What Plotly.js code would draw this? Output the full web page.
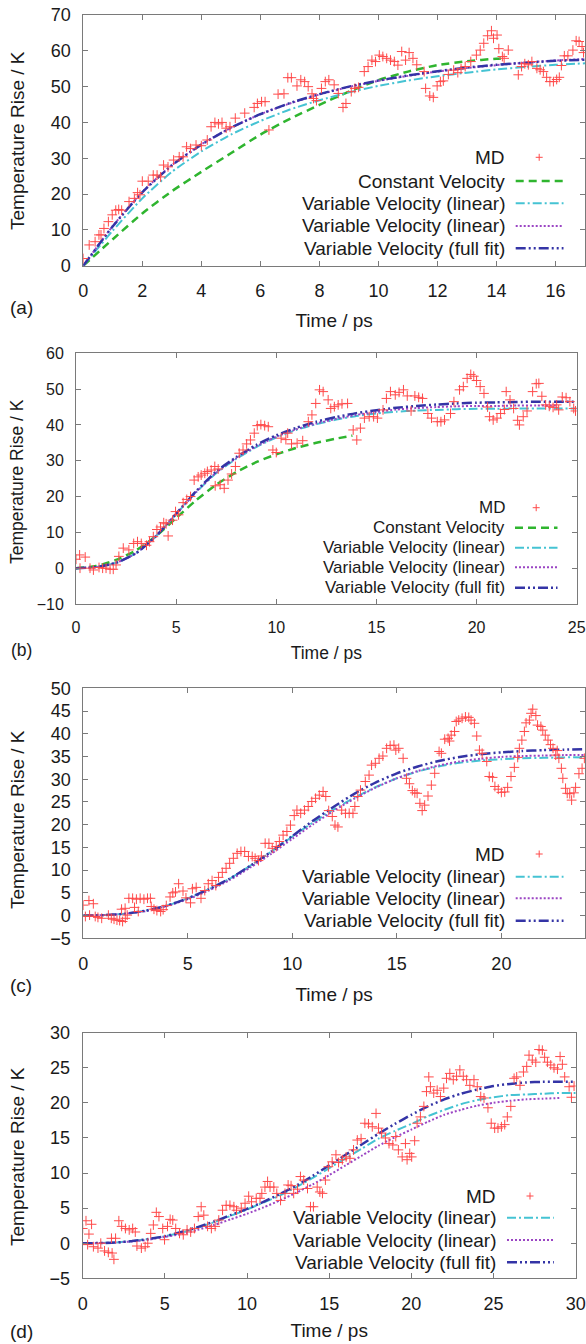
<!DOCTYPE html>
<html>
<head>
<meta charset="utf-8">
<script src="https://cdn.plot.ly/plotly-3.0.1.min.js"></script>
<style>html,body{margin:0;padding:0;background:#fff;}#chart{width:586px;height:1344px;}</style>
</head>
<body>
<div id="chart"></div>
<script>
// ---------------- DATA ----------------
const legendA = ["MD", "Constant Velocity", "Variable Velocity (linear)", "Variable Velocity (linear)", "Variable Velocity (full fit)"];
const legendB = ["MD", "Constant Velocity", "Variable Velocity (linear)", "Variable Velocity (linear)", "Variable Velocity (full fit)"];
const legendC = ["MD", "Variable Velocity (linear)", "Variable Velocity (linear)", "Variable Velocity (full fit)"];
const legendD = ["MD", "Variable Velocity (linear)", "Variable Velocity (linear)", "Variable Velocity (full fit)"];
const panelLabels = ["(a)", "(b)", "(c)", "(d)"];
const xTitle = "Time / ps";
const yTitle = "Temperature Rise / K";

// Panel (a)
const mdA_t = [0,0.2,0.4,0.53,0.6,0.7,0.85,0.98,1.1,1.2,1.3,1.55,1.73,1.84,1.92,2.0,2.2,2.37,2.5,2.62,2.72,2.87,3.06,3.25,3.38,3.5,3.63,3.82,4.0,4.2,4.33,4.46,4.58,4.7,4.84,4.97,5.15,5.47,5.79,5.9,6.04,6.16,6.29,6.6,6.8,6.93,7.05,7.24,7.37,7.5,7.62,7.75,7.8,7.9,8.07,8.2,8.32,8.5,8.64,8.8,8.9,9.08,9.2,9.33,9.52,9.65,9.78,9.9,10.03,10.15,10.28,10.41,10.54,10.66,10.79,10.92,11.04,11.17,11.3,11.55,11.6,11.74,11.86,11.99,12.1,12.2,12.37,12.55,12.69,12.8,12.94,13.13,13.32,13.45,13.57,13.7,13.83,13.9,14.02,14.08,14.2,14.26,14.4,14.74,14.85,14.96,15.08,15.2,15.37,15.48,15.59,15.7,15.81,15.93,16.04,16.13,16.2,16.3,16.42,16.59,16.7,16.8,16.9,16.95];
const mdA_T = [2.0,5.8,6.7,8.6,8.6,10.4,12.3,14.2,15.5,15.7,15.5,17.9,18.8,20.4,19.8,23.6,23.6,25.3,25.3,24.8,28.1,27.6,29.5,30.4,30.4,33.2,32.7,33.7,33.5,35.1,38.8,40.0,39.6,40.0,38.4,38.8,41.2,42.6,44.2,45.3,45.8,45.8,37.9,47.9,48.0,52.5,52.5,50.2,51.9,51.4,50.0,48.0,46.7,46.1,49.5,51.4,51.9,50.5,48.1,44.2,45.3,48.6,49.5,49.8,54.2,55.6,57.4,57.0,58.8,58.4,57.9,57.4,57.0,56.0,59.8,57.4,59.5,57.9,56.1,54.2,49.5,47.4,47.0,50.2,51.4,51.6,53.4,54.6,53.9,55.0,55.6,57.0,58.8,60.2,62.1,64.2,65.6,63.5,64.4,60.6,58.4,57.9,60.2,53.3,55.6,56.4,56.1,57.0,55.1,54.7,54.2,52.6,51.4,51.4,52.0,52.6,55.9,58.6,58.6,60.2,62.8,62.6,61.2,59.5];
const curveA_t = [0,1,2,3,4,5,6,7,8,9,10,11,12,13,14,15,16,17];
const fullFitA = [0,11.0,20.5,28.0,33.8,38.5,42.3,45.4,47.9,50.0,51.7,53.1,54.3,55.3,56.1,56.7,57.2,57.5];
const linear2A = [0,11.1,20.6,28.1,33.9,38.5,42.3,45.3,47.8,49.9,51.6,53.0,54.2,55.2,56.0,56.7,57.3,57.7];
const linear1A = [0,9.8,18.8,26.2,31.9,36.6,40.4,43.6,46.2,48.4,50.2,51.7,52.9,53.9,54.8,55.5,56.1,56.5];
const constA_t = [0,1,2,3,4,5,6,7,8,9,10,11,12,13,14,14.2];
const constA = [0,7.4,14.6,20.8,26.2,31.4,36.6,41.0,44.9,48.6,51.8,54.2,56.0,57.1,57.8,57.9];

// Panel (b)
const mdB_t = [0,0.18,0.2,0.46,0.7,0.87,1.15,1.33,1.5,1.7,1.86,2.0,2.14,2.36,2.64,2.88,3.07,3.26,3.52,3.67,3.86,4.04,4.22,4.38,4.5,4.6,4.82,4.97,5.12,5.35,5.53,5.72,5.9,6.1,6.25,6.43,6.56,6.75,6.93,7.1,6.95,7.2,7.4,7.59,7.77,7.96,8.15,8.34,8.52,8.71,8.9,9.05,9.23,9.42,9.6,9.83,10.0,10.24,10.48,10.57,10.76,11.04,11.32,11.6,11.78,11.97,12.16,12.34,12.59,12.72,12.9,13.09,13.28,13.56,13.84,14.02,14.2,14.4,14.64,14.86,15.05,15.33,15.5,15.7,15.94,16.13,16.35,16.54,16.73,16.92,17.11,17.3,17.57,17.75,18.04,18.22,18.4,18.7,18.87,19.15,19.34,19.53,19.71,19.86,20.0,20.18,20.37,20.55,20.65,20.83,21.02,21.2,21.39,21.48,21.67,21.85,22.05,22.14,22.33,22.52,22.8,22.98,23.11,23.26,23.45,23.63,23.82,24.0,24.1,24.28,24.47,24.66,24.85,24.94];
const mdB_T = [2.5,3.7,0,3.1,0,-0.5,0.2,0,0,-0.3,-0.3,0.9,3.3,5.6,5.1,6.9,7.4,6.9,6.4,7.4,8.8,10.8,11.5,12.7,12.4,9.0,13.4,15.8,14.9,18.3,19.2,20.0,24.6,25.5,26.0,26.5,27.0,27.4,28.4,27.7,23.0,23.3,22.3,24.6,26.3,28.4,32.1,33.0,34.7,35.8,37.7,39.8,40.1,39.8,39.5,33.0,32.3,36.3,35.9,37.7,34.7,34.9,35.6,40.9,42.8,46.0,49.8,49.3,47.0,44.6,45.1,45.6,45.9,46.0,38.6,35.8,39.1,41.9,42.3,42.3,41.9,44.2,47.4,49.3,48.4,49.1,49.8,48.1,43.9,48.1,47.7,47.4,43.2,41.9,40.9,40.9,41.4,43.2,46.5,49.8,50.7,53.0,54.1,53.6,52.4,50.7,48.8,45.0,42.3,41.4,41.9,43.2,44.3,49.3,47.0,44.6,41.3,40.0,42.3,43.9,49.3,51.5,51.6,48.0,45.6,45.2,44.9,45.6,44.2,47.8,47.6,46.5,44.6,43.9];
const curveB_t = [0,1,2,3,4,5,6,7,8,9,10,11,12,13,14,15,16,17,18,19,20,21,22,23,24,25];
const fullFitB = [0,0.3,1.5,4.2,9.0,15.2,21.5,27.0,31.0,34.4,37.1,39.2,40.9,42.2,43.3,44.1,44.8,45.3,45.7,46.0,46.2,46.3,46.4,46.5,46.5,46.5];
const linear1B = [0,0.3,1.5,4.2,9.0,15.1,21.2,26.5,30.5,33.8,36.5,38.6,40.2,41.5,42.5,43.2,43.7,44.0,44.2,44.4,44.5,44.5,44.6,44.6,44.6,44.6];
const linear2B_t = [0,1,2,3,4,5,6,7,8,9,10,11,12,13,14,15,16,17,18,19,20,21,22,23,24];
const linear2B = [0,0.3,1.5,4.2,9.0,15.1,21.3,26.7,30.7,34.0,36.7,38.8,40.4,41.7,42.8,43.6,44.3,44.7,45.0,45.2,45.3,45.3,45.4,45.4,45.4];
const constB_t = [0,1,2,3,4,5,6,7,8,9,10,11,12,13,13.8];
const constB = [0,0.6,2.3,5.0,9.0,14.0,19.0,23.3,26.8,29.6,31.8,33.6,35.0,36.2,37.0];

// Panel (c)
const mdC_t = [0,0.1,0.27,0.3,0.48,0.57,0.7,0.88,1.2,1.34,1.47,1.61,1.74,1.88,1.83,2.0,2.01,2.1,2.18,2.36,2.45,2.54,2.63,2.72,2.9,3.07,3.21,3.25,3.38,3.52,3.7,3.82,3.97,4.15,4.28,4.41,4.56,4.77,4.91,5.13,5.22,5.4,5.63,5.81,5.98,6.16,6.34,6.47,6.65,6.83,7.0,7.18,7.36,7.54,7.72,7.9,8.08,8.22,8.38,8.52,8.7,8.88,9.04,9.23,9.38,9.56,9.74,9.91,10.09,10.22,10.4,10.58,10.76,10.93,11.11,11.29,11.47,11.6,11.74,11.91,12.04,12.18,12.36,12.54,12.72,12.9,12.99,13.13,13.26,13.49,13.67,13.79,13.97,14.15,14.33,14.51,14.68,14.86,14.95,15.09,15.3,15.46,15.6,15.74,15.86,15.97,16.1,16.21,16.33,16.49,16.65,16.81,17.02,17.13,17.29,17.45,17.52,17.6,17.76,17.84,17.96,18.12,18.28,18.44,18.55,18.71,18.82,18.95,19.08,19.3,19.42,19.58,19.69,19.85,20.0,20.16,20.3,20.46,20.62,20.78,20.86,20.98,21.1,21.18,21.34,21.42,21.5,21.65,21.73,21.89,21.98,22.1,22.23,22.35,22.47,22.6,22.67,22.75,22.87,22.94,23.07,23.15,23.27,23.36,23.47,23.55,23.71,23.86,23.97];
const mdC_T = [2.3,-0.2,3.3,0.1,2.6,-0.2,-0.4,-0.6,0.1,-0.6,-0.8,-1.0,-1.1,-1.3,1.4,1.6,-0.6,0.1,3.8,3.8,1.8,3.6,0.9,3.8,3.6,3.8,3.8,2.0,1.4,1.1,0.9,1.3,2.2,4.1,5.0,5.2,7.0,5.4,3.9,2.8,5.9,6.2,3.8,5.5,7.0,7.7,6.6,8.4,9.5,10.4,11.5,12.6,13.7,14.1,14.1,13.0,13.0,12.6,12.1,13.1,15.9,15.9,14.8,15.2,16.3,17.7,18.5,19.9,22.0,23.2,22.5,23.2,24.0,25.1,25.8,26.5,27.3,26.2,23.1,21.8,19.9,19.5,23.2,22.5,22.5,22.5,24.0,26.2,27.6,29.5,30.9,33.1,33.5,34.6,35.1,36.8,37.4,37.5,36.4,36.8,34.6,30.2,29.0,27.5,27.0,26.9,24.7,23.1,24.3,26.3,28.7,31.3,36.1,35.7,38.8,39.0,38.4,39.7,40.5,42.7,43.0,43.4,43.7,43.6,43.0,42.3,39.5,36.4,35.7,33.9,30.6,30.4,28.4,27.8,27.1,27.2,28.2,30.6,32.6,34.8,36.8,38.6,40.5,42.4,43.0,44.5,45.4,44.0,41.9,41.6,40.8,39.7,38.6,37.6,36.8,35.3,36.3,34.6,32.4,30.2,28.0,26.9,26.8,25.4,27.0,28.2,31.2,32.4,34.6];
const curveC_t = [0,1,2,3,4,5,6,7,8,9,10,11,12,13,14,15,16,17,18,19,20,21,22,23,24];
const fullFitC = [0,0.1,0.4,1.1,2.2,3.8,5.8,8.1,11.0,14.1,17.5,20.9,24.0,26.9,29.3,31.3,32.8,34.0,34.9,35.5,35.9,36.2,36.4,36.5,36.6];
const linear1C = [0,0.1,0.4,1.1,2.2,3.8,5.8,8.1,11.0,14.1,17.4,20.5,23.4,26.0,28.3,30.2,31.7,32.8,33.6,34.1,34.4,34.6,34.7,34.8,34.8];
const linear2C = [0,0.1,0.4,1.0,2.1,3.6,5.5,7.8,10.6,13.6,16.9,20.1,23.1,25.8,28.2,30.2,31.8,33.0,33.9,34.5,34.9,35.1,35.2,35.3,35.3];

// Panel (d)
const mdD_t = [0,0.2,0.3,0.38,0.54,0.65,0.93,1.1,1.33,1.56,1.75,1.79,1.9,2.0,2.2,2.37,2.6,2.83,3.04,3.2,3.3,3.57,3.8,3.96,4.14,4.3,4.48,4.64,4.87,4.98,5.16,5.32,5.48,5.66,5.89,6.12,6.35,6.57,6.8,7.03,7.21,7.37,7.6,7.83,8.06,8.28,8.51,8.73,8.96,9.2,9.36,9.65,9.88,10.1,10.27,10.56,10.79,10.9,11.09,11.25,11.4,11.63,11.81,12.04,12.31,12.5,12.68,12.84,13.07,13.25,13.45,13.68,13.86,14.04,14.27,14.43,14.59,14.77,14.95,15.18,15.41,15.57,15.8,16.03,16.26,16.48,16.71,16.94,17.17,17.39,17.62,17.85,18.0,18.19,18.42,18.64,18.87,19.05,19.21,19.44,19.64,19.74,19.9,20.02,20.2,20.35,20.55,20.76,20.92,21.06,21.16,21.36,21.57,21.77,21.97,22.14,22.34,22.55,22.75,22.95,23.16,23.36,23.56,23.81,24.01,24.22,24.42,24.66,24.86,25.07,25.27,25.48,25.68,25.84,26.05,26.25,26.41,26.61,26.82,27.02,27.16,27.36,27.57,27.77,27.97,28.11,28.28,28.48,28.68,28.89,29.05,29.19,29.33,29.6,29.74,29.9];
const mdD_T = [2.1,3.2,-0.2,1.3,2.7,-0.5,-0.7,0,-1.1,-1.3,0.7,-1.4,-2.3,0.7,3.2,2.4,2.1,1.9,2.1,1.6,-0.4,-0.7,-0.5,0,1.4,2.6,4.4,3.8,2.1,0.5,2.4,3.4,3.3,2.1,1.4,1.2,1.9,1.6,2.1,3.8,5.2,4.0,2.4,2.1,2.4,3.3,4.7,5.4,5.4,5.2,4.7,5.0,5.7,6.7,5.9,6.4,6.4,7.1,8.0,8.8,8.0,8.0,7.1,6.1,7.1,8.3,8.2,7.1,7.7,9.5,9.0,7.8,5.2,5.2,8.0,7.3,7.1,9.0,10.9,11.6,12.6,11.5,11.9,12.3,12.1,13.3,14.7,14.9,17.1,17.0,16.6,18.5,16.4,15.7,15.0,14.2,14.0,15.2,13.3,12.3,14.2,11.9,12.8,12.3,14.6,17.1,18.0,19.5,21.6,23.7,22.3,21.4,21.8,20.9,22.1,23.5,24.2,23.3,23.8,24.7,23.8,23.3,22.5,23.3,22.3,20.9,20.7,19.3,17.1,16.4,16.4,16.6,16.9,18.0,19.5,23.5,23.7,22.5,24.4,25.2,26.8,26.1,25.8,27.6,27.5,26.5,25.8,25.4,25.0,24.8,26.6,25.5,23.7,22.3,20.8,22.4];
const curveD_t = [0,1,2,3,4,5,6,7,8,9,10,11,12,13,14,15,16,17,18,19,20,21,22,23,24,25,26,27,28,29,30];
const fullFitD = [0,0.02,0.1,0.3,0.6,1.0,1.6,2.3,3.1,4.0,4.9,5.9,7.0,8.2,9.6,11.1,12.6,14.1,15.6,17.0,18.3,19.5,20.5,21.3,21.9,22.4,22.7,22.9,23.0,23.0,23.0];
const linear1D = [0,0.02,0.1,0.3,0.6,1.0,1.5,2.2,3.0,3.9,4.8,5.8,6.8,8.0,9.3,10.7,12.1,13.5,14.9,16.0,17.0,18.1,19.0,19.8,20.4,20.8,21.1,21.2,21.3,21.4,21.4];
const linear2D_t = [0,1,2,3,4,5,6,7,8,9,10,11,12,13,14,15,16,17,18,19,20,21,22,23,24,25,26,27,28,29];
const linear2D = [0,0.02,0.1,0.25,0.5,0.9,1.3,1.9,2.6,3.4,4.2,5.1,6.1,7.2,8.4,9.7,11.1,12.5,13.9,15.1,16.2,17.3,18.3,19.0,19.6,20.0,20.3,20.5,20.6,20.7];

// ---------------- STYLE / LAYOUT ----------------
const W = 586, H = 1344;
const fx = v => v / W;
const fy = v => 1 - v / H;
const FONT = 'Liberation Sans, Arial, Helvetica, sans-serif';
const GRAY = '#7a7a7a';
const INK = '#1a1a1a';
const C = {
  md: '#ff4a4a',
  cv: '#2fb52f',
  l1: '#45c3d3',
  l2: '#9b45c4',
  ff: '#3434a6'
};
const DASH = {
  cv: '8px,5px',
  l1: '9px,3px,2px,3px',
  l2: '2px,2px',
  ff: '10px,3px,2px,3px,2px,3px'
};
const WID = {cv: 2.5, l1: 2, l2: 2, ff: 2.5};

const panels = [
  {box: {l: 83.3, t: 15, r: 585, b: 265.7}, xr: [0, 17], yr: [0, 70], xd: 2, yd: 10, fs: 18, tfs: 19, ytY: 141, xst: 13,
   leg: {tr: 504.5, s0: 515.7, s1: 563.5, px: 539.2, ys: [157.3, 181, 203.3, 226, 248.3], fs: 19},
   labelY: 308},
  {box: {l: 76, t: 353.3, r: 576.7, b: 604}, xr: [0, 25], yr: [-10, 60], xd: 5, yd: 10, fs: 16, tfs: 17.5, ytY: 482, xst: 11,
   leg: {tr: 504.5, s0: 515, s1: 557.5, px: 536.2, ys: [507.7, 527.7, 547.7, 567.3, 587.7], fs: 17},
   labelY: 650},
  {box: {l: 83.3, t: 688.3, r: 585, b: 938.3}, xr: [0, 24], yr: [-5, 50], xd: 5, yd: 5, fs: 18, tfs: 19, ytY: 820, xst: 14,
   leg: {tr: 504.5, s0: 515.7, s1: 563.5, px: 539.2, ys: [854, 876.7, 898.3, 920.7], fs: 19},
   labelY: 985},
  {box: {l: 82.7, t: 1032.7, r: 575.7, b: 1278.3}, xr: [0, 30], yr: [-5, 30], xd: 5, yd: 5, fs: 18, tfs: 19, ytY: 1157, xst: 10,
   leg: {tr: 496.3, s0: 507, s1: 553.8, px: 530, ys: [1196, 1217.7, 1240, 1262.3], fs: 19},
   labelY: 1331.7}
];

const panelData = [
  {md: [mdA_t, mdA_T], series: [
    {k: 'cv', x: constA_t, y: constA},
    {k: 'l1', x: curveA_t, y: linear1A},
    {k: 'l2', x: curveA_t, y: linear2A},
    {k: 'ff', x: curveA_t, y: fullFitA}], legend: legendA},
  {md: [mdB_t, mdB_T], series: [
    {k: 'cv', x: constB_t, y: constB},
    {k: 'l1', x: curveB_t, y: linear1B},
    {k: 'l2', x: linear2B_t, y: linear2B},
    {k: 'ff', x: curveB_t, y: fullFitB}], legend: legendB},
  {md: [mdC_t, mdC_T], series: [
    {k: 'l1', x: curveC_t, y: linear1C},
    {k: 'l2', x: curveC_t, y: linear2C},
    {k: 'ff', x: curveC_t, y: fullFitC}], legend: legendC},
  {md: [mdD_t, mdD_T], series: [
    {k: 'l1', x: curveD_t, y: linear1D},
    {k: 'l2', x: linear2D_t, y: linear2D},
    {k: 'ff', x: curveD_t, y: fullFitD}], legend: legendD}
];

const traces = [];
const layout = {
  width: W, height: H,
  margin: {l: 0, r: 0, t: 0, b: 0},
  paper_bgcolor: '#ffffff', plot_bgcolor: '#ffffff',
  showlegend: false,
  font: {family: FONT, color: INK},
  annotations: [], shapes: []
};

panels.forEach((p, i) => {
  const n = i === 0 ? '' : String(i + 1);
  const xa = 'x' + n, ya = 'y' + n;
  const d = panelData[i];
  d.series.forEach(s => {
    traces.push({
      type: 'scatter', mode: 'lines', x: s.x, y: s.y, xaxis: xa, yaxis: ya,
      line: {color: C[s.k], width: WID[s.k], dash: DASH[s.k], shape: 'spline', smoothing: 0.6},
      hoverinfo: 'skip'
    });
  });
  traces.push({
    type: 'scatter', mode: 'markers', x: d.md[0], y: d.md[1], xaxis: xa, yaxis: ya,
    marker: {symbol: 'cross-thin-open', size: 7, color: C.md, line: {color: C.md, width: 1}},
    cliponaxis: true, hoverinfo: 'skip'
  });
  const b = p.box;
  const axCommon = {
    showgrid: false, zeroline: false, showline: true, mirror: 'ticks',
    linecolor: GRAY, linewidth: 1, ticks: 'inside', ticklen: 5, tickcolor: GRAY, tickwidth: 1,
    tickfont: {family: FONT, size: p.fs, color: INK}, fixedrange: true
  };
  layout['xaxis' + n] = Object.assign({}, axCommon, {
    domain: [fx(b.l), fx(b.r)], range: p.xr, tick0: 0, dtick: p.xd, anchor: ya,
    ticklabelstandoff: 9,
    title: {text: xTitle, font: {family: FONT, size: p.tfs, color: INK}, standoff: p.xst}
  });
  layout['yaxis' + n] = Object.assign({}, axCommon, {
    domain: [fy(b.b), fy(b.t)], range: p.yr, tick0: 0, dtick: p.yd, anchor: xa,
    ticklabelstandoff: 8
  });
  // y axis title (placed at the same x as in the original for every panel)
  layout.annotations.push({
    xref: 'paper', yref: 'paper', x: fx(17), y: fy(p.ytY), text: yTitle, textangle: -90,
    showarrow: false, xanchor: 'center', yanchor: 'middle', borderpad: 0, borderwidth: 0,
    font: {family: FONT, size: p.tfs, color: INK}
  });
  // panel label
  layout.annotations.push({
    xref: 'paper', yref: 'paper', x: fx(21), y: fy(p.labelY), text: panelLabels[i],
    showarrow: false, xanchor: 'center', yanchor: 'middle', borderpad: 0, borderwidth: 0,
    font: {family: FONT, size: p.tfs, color: INK}
  });
  // key: text on the left, sample on the right
  const L = p.leg;
  const keys = ['md'].concat(d.series.map(s => s.k));
  keys.forEach((k, j) => {
    const yc = L.ys[j];
    layout.annotations.push({
      xref: 'paper', yref: 'paper', x: fx(L.tr), y: fy(yc), text: d.legend[j],
      showarrow: false, xanchor: 'right', yanchor: 'middle', borderpad: 0, borderwidth: 0,
      font: {family: FONT, size: L.fs, color: INK}
    });
    if (k === 'md') {
      layout.shapes.push({type: 'line', xref: 'paper', yref: 'paper', x0: fx(L.px - 3.5), x1: fx(L.px + 3.5), y0: fy(yc), y1: fy(yc), line: {color: C.md, width: 1}});
      layout.shapes.push({type: 'line', xref: 'paper', yref: 'paper', x0: fx(L.px), x1: fx(L.px), y0: fy(yc - 3.5), y1: fy(yc + 3.5), line: {color: C.md, width: 1}});
    } else {
      layout.shapes.push({type: 'line', xref: 'paper', yref: 'paper', x0: fx(L.s0), x1: fx(L.s1), y0: fy(yc), y1: fy(yc), line: {color: C[k], width: WID[k], dash: DASH[k]}});
    }
  });
});

Plotly.newPlot('chart', traces, layout, {staticPlot: true, displayModeBar: false});
</script>
</body>
</html>
